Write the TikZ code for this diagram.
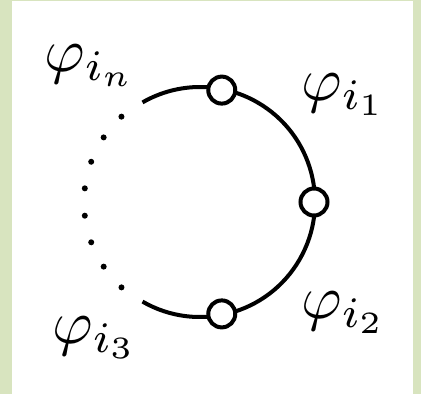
\documentclass[tikz,border=0pt]{standalone}
\usetikzlibrary{calc}
\definecolor{framegreen}{HTML}{D8E4BF}
\tikzset{
  lbl/.style={anchor=base west, inner sep=0pt, scale=6.2},
  vtx/.style={circle, draw, fill=white, line width=4pt, minimum size=27pt, inner sep=0pt},
  arcline/.style={line width=4pt},
}
\begin{document}
\begin{tikzpicture}[x=1pt,y=-1pt]
  \fill[framegreen] (0,0) rectangle (421,394);
  \fill[white] (12,1) rectangle (413,394);
  \useasboundingbox (0,0) rectangle (421,394);
  \coordinate (c) at (200,202);
  \draw[arcline] ($(c)+(120:115)$) arc[start angle=120, end angle=-120, radius=115];
  \node[vtx] (v1) at ($(c)+(-79:114)$) {};
  \node[vtx] (v2) at ($(c)+(0:114)$) {};
  \node[vtx] (v3) at ($(c)+(79:114)$) {};
  \foreach \a in {0,...,7} {
    \fill ($(c)+({132.6+13.54*\a}:116)$) circle[radius=3];
  }
  \node[lbl] (ln) at (43,71) {$\varphi_{i_n}$};
  \node[lbl] (l1) at (300,100) {$\varphi_{i_1}$};
  \node[lbl] (l2) at (300,318) {$\varphi_{i_2}$};
  \node[lbl] (l3) at (51,343) {$\varphi_{i_3}$};
\end{tikzpicture}
\end{document}
